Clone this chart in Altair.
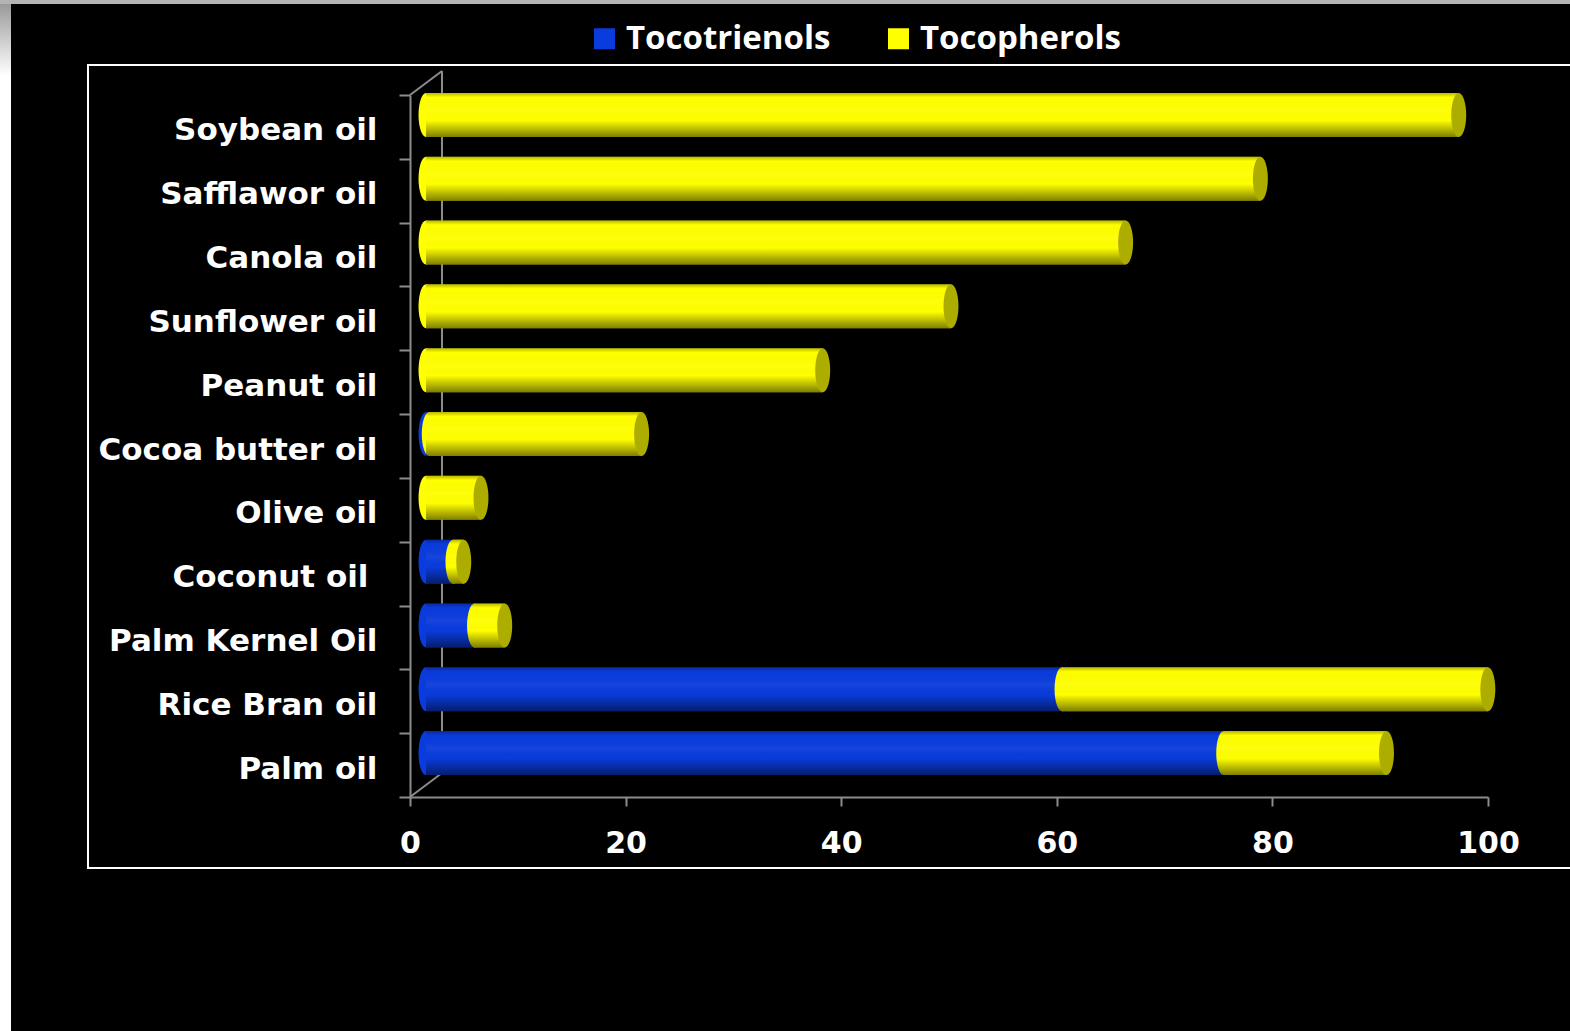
import altair as alt
import pandas as pd

# ---- data ----
oils = ["Soybean oil", "Safflawor oil", "Canola oil", "Sunflower oil", "Peanut oil",
        "Cocoa butter oil", "Olive oil", "Coconut oil", "Palm Kernel Oil",
        "Rice Bran oil", "Palm oil"]
tocotrienols = [0, 0, 0, 0, 0, 0.3, 0, 2.5, 4.5, 59.0, 74.0]
tocopherols = [95.8, 77.4, 64.9, 48.7, 36.8, 19.7, 5.1, 1.0, 2.8, 39.5, 15.1]
series = ["Tocotrienols", "Tocopherols"]
colors = ["#0a3bdc", "#ffff00"]
x_ticks = [0, 20, 40, 60, 80, 100]

# ---- tables built from the arrays ----
rows = []
for o, t3, tp in zip(oils, tocotrienols, tocopherols):
    if t3 > 0:
        rows.append({"oil": o, "series": series[0], "start": 0.0, "end": t3})
    if tp > 0:
        rows.append({"oil": o, "series": series[1], "start": t3, "end": t3 + tp})
bars = pd.DataFrame(rows)

tot = pd.DataFrame({
    "oil": oils,
    "split": tocotrienols,
    "total": [a + b for a, b in zip(tocotrienols, tocopherols)],
    "first": [series[0] if a > 0 else series[1] for a in tocotrienols],
    "zero": [0.0] * len(oils),
})
splits = tot[tot["split"] > 0]
one = pd.DataFrame({"a": [0]})

W, H = 1078, 702
BAR = 44
DX, DY = 16, -12
ELL = "M0,-1 A0.34,1 0 1,1 0,1 A0.34,1 0 1,1 0,-1 Z"
ELL_SIZE = BAR * BAR
GRAY = "#8c8c8c"
AXFONT = "DejaVu Sans"

xs = alt.Scale(domain=[0, 100], nice=False, zero=True)
ys = alt.Scale(domain=oils, paddingInner=0, paddingOuter=0)
cs = alt.Scale(domain=series, range=colors)

# decorations (page strips, frame, 3D wall lines)
top_strip = alt.Chart(one).mark_rect(color="#b4b4b4").encode(
    x=alt.value(-410), x2=alt.value(1160), y=alt.value(-95), y2=alt.value(-91))
left_strip = alt.Chart(one).mark_rect(
    color=alt.LinearGradient(gradient="linear", x1=0, x2=0, y1=0, y2=1,
                             stops=[alt.GradientStop(color="#9a9a9a", offset=0),
                                    alt.GradientStop(color="#ffffff", offset=0.07),
                                    alt.GradientStop(color="#ffffff", offset=1)])
).encode(x=alt.value(-410), x2=alt.value(-399), y=alt.value(-91), y2=alt.value(936))
frame = alt.Chart(one).mark_rect(filled=False, stroke="white", strokeWidth=2).encode(
    x=alt.value(-322), x2=alt.value(1175), y=alt.value(-30), y2=alt.value(773))
back_v = alt.Chart(one).mark_rule(color=GRAY, strokeWidth=2).encode(
    x=alt.value(32), y=alt.value(-24), y2=alt.value(678))
diag_top = alt.Chart(one).mark_rule(color=GRAY, strokeWidth=2).encode(
    x=alt.value(0), x2=alt.value(32), y=alt.value(0), y2=alt.value(-24))
diag_bot = alt.Chart(one).mark_rule(color=GRAY, strokeWidth=2).encode(
    x=alt.value(0), x2=alt.value(32), y=alt.value(H), y2=alt.value(H - 24))

# main bars
main = alt.Chart(bars).mark_bar(size=BAR, xOffset=DX, x2Offset=DX, yOffset=DY).encode(
    x=alt.X("start:Q", scale=xs, title=None,
            axis=alt.Axis(values=x_ticks, grid=False, tickSize=9, labelPadding=22,
                          labelFlush=False)),
    x2="end:Q",
    y=alt.Y("oil:N", scale=ys, sort=oils, title=None,
            axis=alt.Axis(tickBand="extent", tickSize=11, labelFontSize=31,
                          labelPadding={"condition": {"test": "datum.value == 'Coconut oil'",
                                                      "value": 31},
                                        "value": 22},
                          labelOffset=4, grid=False, labelLimit=0)),
    color=alt.Color("series:N", scale=cs, title=None,
                    legend=alt.Legend(orient="none", legendX=178, legendY=-73,
                                      direction="horizontal", symbolType="square",
                                      symbolSize=441, symbolStrokeWidth=0,
                                      labelFontSize=33, labelFont="Open Sans",
                                      labelFontWeight="bold", labelColor="white",
                                      labelLimit=0,
                                      labelOffset=5, columnPadding=51)),
)

left_cap = alt.Chart(tot).mark_point(shape=ELL, size=ELL_SIZE, filled=True, opacity=1,
                                     strokeWidth=0, xOffset=DX, yOffset=DY).encode(
    x=alt.X("zero:Q", scale=xs), y=alt.Y("oil:N", scale=ys, sort=oils),
    color=alt.Color("first:N", scale=cs))

split_cap = alt.Chart(splits).mark_point(shape=ELL, size=ELL_SIZE, filled=True, opacity=1,
                                         strokeWidth=0, xOffset=DX, yOffset=DY,
                                         color="#ffff00").encode(
    x=alt.X("split:Q", scale=xs), y=alt.Y("oil:N", scale=ys, sort=oils))

shade = alt.Chart(tot).mark_bar(
    size=BAR, xOffset=DX, x2Offset=DX, yOffset=DY,
    color=alt.LinearGradient(gradient="linear", x1=0, x2=0, y1=0, y2=1,
                             stops=[alt.GradientStop(color="rgba(0,0,0,0.28)", offset=0),
                                    alt.GradientStop(color="rgba(0,0,0,0)", offset=0.1),
                                    alt.GradientStop(color="rgba(255,255,255,0.05)", offset=0.4),
                                    alt.GradientStop(color="rgba(0,0,0,0)", offset=0.62),
                                    alt.GradientStop(color="rgba(0,0,0,0.5)", offset=1)])
).encode(x=alt.X("zero:Q", scale=xs), x2="total:Q", y=alt.Y("oil:N", scale=ys, sort=oils))

end_cap = alt.Chart(tot).mark_point(shape=ELL, size=ELL_SIZE, filled=True, opacity=1,
                                    strokeWidth=0, xOffset=DX, yOffset=DY,
                                    color="#adad00").encode(
    x=alt.X("total:Q", scale=xs), y=alt.Y("oil:N", scale=ys, sort=oils))

chart = alt.layer(
    top_strip, left_strip, frame, back_v, diag_top, diag_bot,
    main, left_cap, split_cap, shade, end_cap
).properties(
    width=W, height=H,
    padding={"left": 410, "top": 95, "right": 82, "bottom": 234},
    autosize=alt.AutoSizeParams(type="none"),
    background="black",
).configure_view(stroke=None).configure_axis(
    domainColor=GRAY, domainWidth=2, tickColor=GRAY, tickWidth=2,
    labelColor="white", labelFont=AXFONT, labelFontWeight="bold", labelFontSize=30,
)

chart.save("out.html", embed_options={"renderer": "svg", "actions": False})
